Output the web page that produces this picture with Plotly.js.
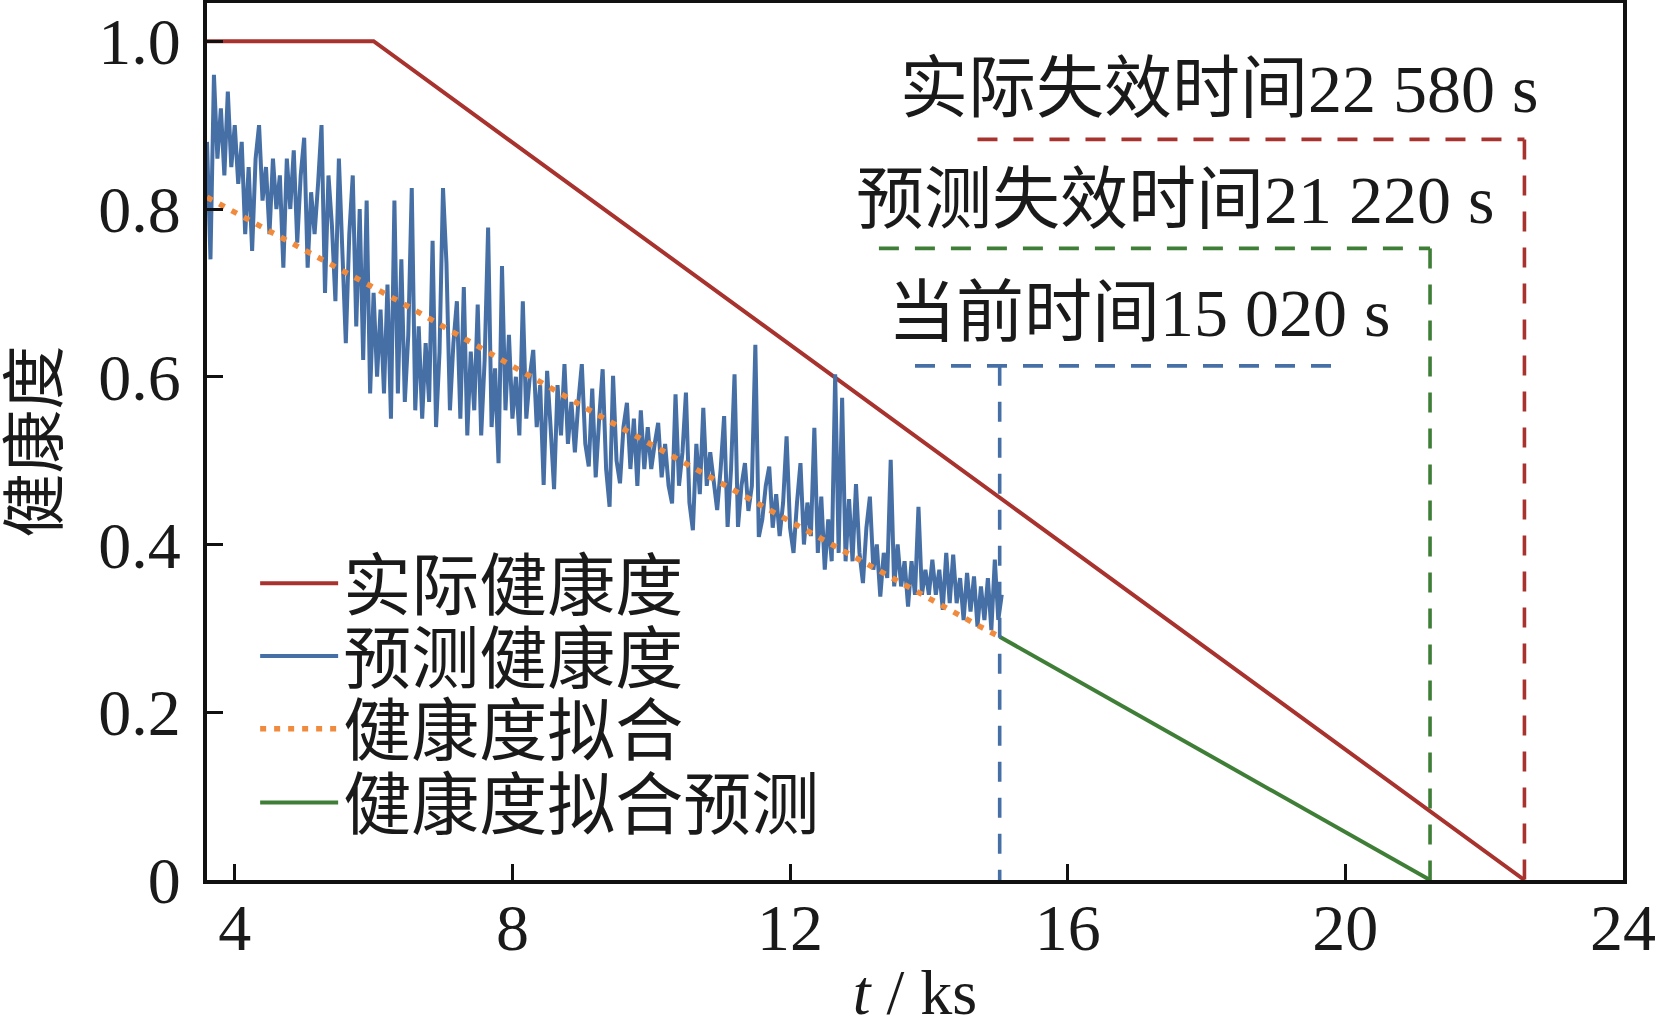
<!DOCTYPE html>
<html>
<head>
<meta charset="utf-8">
<script src="https://cdn.plot.ly/plotly-3.0.1.min.js"></script>
<style>
body { margin: 0; background: #fff; }
#chart { width: 1656px; height: 1028px; }
</style>
</head>
<body>
<div id="chart"></div>
<script>
// t in ks, health index 0..1
var actualT = [3.6, 6.0, 22.58];
var actualH = [1.0, 1.0, 0.0];

var predT = [
 3.60, 3.65, 3.70, 3.75, 3.80, 3.85, 3.90, 3.95, 4.00, 4.05, 4.10, 4.15, 4.20, 4.25, 4.30, 4.35, 4.40, 4.45, 4.50, 4.55,
 4.60, 4.65, 4.70, 4.75, 4.80, 4.85, 4.90, 4.95, 5.00, 5.05, 5.10, 5.15, 5.20, 5.25, 5.30, 5.35, 5.40, 5.45, 5.50, 5.55,
 5.60, 5.65, 5.70, 5.75, 5.80, 5.85, 5.90, 5.95, 6.00, 6.05, 6.10, 6.15, 6.20, 6.25, 6.30, 6.35, 6.40, 6.45, 6.50, 6.55,
 6.60, 6.65, 6.70, 6.75, 6.80, 6.85, 6.90, 6.95, 7.00, 7.05, 7.10, 7.15, 7.20, 7.25, 7.30, 7.35, 7.40, 7.45, 7.50, 7.55,
 7.60, 7.65, 7.70, 7.75, 7.80, 7.85, 7.90, 7.95, 8.00, 8.05, 8.10, 8.15, 8.20, 8.25, 8.30, 8.35, 8.40, 8.45, 8.50, 8.55,
 8.60, 8.65, 8.70, 8.75, 8.80, 8.85, 8.90, 8.95, 9.00, 9.05, 9.10, 9.15, 9.20, 9.25, 9.30, 9.35, 9.40, 9.45, 9.50, 9.55,
 9.60, 9.65, 9.70, 9.75, 9.80, 9.85, 9.90, 9.95, 10.00, 10.05, 10.10, 10.15, 10.20, 10.25, 10.30, 10.35, 10.40, 10.45, 10.50, 10.55,
 10.60, 10.65, 10.70, 10.75, 10.80, 10.85, 10.90, 10.95, 11.00, 11.05, 11.10, 11.15, 11.20, 11.25, 11.30, 11.35, 11.40, 11.45, 11.50, 11.55,
 11.60, 11.65, 11.70, 11.75, 11.80, 11.85, 11.90, 11.95, 12.00, 12.05, 12.10, 12.15, 12.20, 12.25, 12.30, 12.35, 12.40, 12.45, 12.50, 12.55,
 12.60, 12.65, 12.70, 12.75, 12.80, 12.85, 12.90, 12.95, 13.00, 13.05, 13.10, 13.15, 13.20, 13.25, 13.30, 13.35, 13.40, 13.45, 13.50, 13.55,
 13.60, 13.65, 13.70, 13.75, 13.80, 13.85, 13.90, 13.95, 14.00, 14.05, 14.10, 14.15, 14.20, 14.25, 14.30, 14.35, 14.40, 14.45, 14.50, 14.55,
 14.60, 14.65, 14.70, 14.75, 14.80, 14.85, 14.90, 14.95, 15.00, 15.05
];
var predH = [
 0.88, 0.74, 0.96, 0.86, 0.92, 0.84, 0.94, 0.85, 0.90, 0.83, 0.88, 0.77, 0.85, 0.75, 0.86, 0.90, 0.81, 0.85, 0.77, 0.86,
 0.80, 0.84, 0.73, 0.86, 0.80, 0.87, 0.76, 0.84, 0.885, 0.73, 0.82, 0.77, 0.83, 0.90, 0.70, 0.84, 0.78, 0.69, 0.86, 0.74,
 0.64, 0.77, 0.84, 0.66, 0.80, 0.62, 0.81, 0.58, 0.70, 0.60, 0.68, 0.58, 0.71, 0.55, 0.81, 0.58, 0.74, 0.57, 0.65, 0.825,
 0.56, 0.66, 0.55, 0.64, 0.57, 0.762, 0.54, 0.63, 0.825, 0.735, 0.56, 0.64, 0.69, 0.55, 0.707, 0.53, 0.63, 0.56, 0.686, 0.53,
 0.62, 0.778, 0.54, 0.61, 0.497, 0.732, 0.56, 0.65, 0.55, 0.60, 0.53, 0.69, 0.55, 0.60, 0.632, 0.54, 0.59, 0.471, 0.607, 0.54,
 0.466, 0.59, 0.53, 0.615, 0.52, 0.57, 0.51, 0.57, 0.615, 0.52, 0.493, 0.586, 0.48, 0.55, 0.609, 0.49, 0.445, 0.601, 0.50, 0.473,
 0.54, 0.569, 0.49, 0.55, 0.47, 0.56, 0.49, 0.54, 0.49, 0.52, 0.545, 0.48, 0.52, 0.47, 0.449, 0.579, 0.47, 0.51, 0.581, 0.45,
 0.417, 0.52, 0.46, 0.563, 0.47, 0.51, 0.47, 0.441, 0.49, 0.553, 0.421, 0.49, 0.603, 0.421, 0.47, 0.497, 0.44, 0.47, 0.638, 0.409,
 0.43, 0.47, 0.493, 0.42, 0.46, 0.41, 0.45, 0.529, 0.42, 0.390, 0.45, 0.497, 0.40, 0.45, 0.41, 0.539, 0.39, 0.457, 0.37, 0.43,
 0.38, 0.603, 0.39, 0.575, 0.38, 0.454, 0.38, 0.472, 0.39, 0.354, 0.42, 0.457, 0.37, 0.40, 0.338, 0.39, 0.36, 0.501, 0.35, 0.40,
 0.35, 0.38, 0.326, 0.38, 0.34, 0.445, 0.34, 0.37, 0.34, 0.382, 0.34, 0.37, 0.322, 0.39, 0.33, 0.388, 0.33, 0.36, 0.31, 0.366,
 0.32, 0.362, 0.302, 0.35, 0.31, 0.36, 0.298, 0.382, 0.31, 0.34
];

var fitT = [3.6, 5.02, 6.41, 9.22, 12.13, 14.74, 15.02];
var fitH = [0.814, 0.750, 0.688, 0.555, 0.421, 0.302, 0.290];

var extT = [15.02, 21.22];
var extH = [0.290, 0.0];

// current time, predicted failure, actual failure (ks)
var markT = [15.02, 21.22, 22.58];
var markLabels = ['当前时间15 020 s', '预测失效时间21 220 s', '实际失效时间22 580 s'];

var xTicks = [4, 8, 12, 16, 20, 24];
var yTicks = [0, 0.2, 0.4, 0.6, 0.8, 1.0];
var yTickText = ['0', '0.2', '0.4', '0.6', '0.8', '1.0'];

var seriesNames = ['实际健康度', '预测健康度', '健康度拟合', '健康度拟合预测'];

var RED = '#a8322d', BLUE = '#4670a5', ORANGE = '#f08a3c', GREEN = '#3f7e36';
var SERIF = 'Liberation Serif, Times New Roman, Noto Sans CJK SC, serif';
var CJK = 'Liberation Serif, Noto Sans CJK SC, sans-serif';

function healthPlot(container)
{
    // bracket placement for the three marker lines: [level, left end, right end]
    var brackets = [
        [0.613, 13.80, 19.95],
        [0.753, 13.28, markT[1]],
        [0.883, 14.70, markT[2]]
    ];
    var markColors = [BLUE, GREEN, RED];
    var labelPos = [[17.02, 0.676], [17.55, 0.811], [18.18, 0.943]];
    // one legend per row so the row spacing can follow the figure
    var legendRows = [0.338, 0.255, 0.172, 0.088];
    var legendIds = ['legend', 'legend2', 'legend3', 'legend4'];

    var traces = [
        {x: actualT, y: actualH, name: seriesNames[0], mode: 'lines',
         line: {color: RED, width: 4}},
        {x: predT, y: predH, name: seriesNames[1], mode: 'lines',
         line: {color: BLUE, width: 4}},
        {x: fitT, y: fitH, name: seriesNames[2], mode: 'lines',
         line: {color: ORANGE, width: 5.5, dash: '6px,8px'}},
        {x: extT, y: extH, name: seriesNames[3], mode: 'lines',
         line: {color: GREEN, width: 4}}
    ];
    for (var k = 0; k < traces.length; k++) {
        traces[k].legend = legendIds[k];
    }

    var annotations = [];
    for (var i = 0; i < markT.length; i++) {
        var b = brackets[i];
        traces.push({
            x: [b[1], b[2], null, markT[i], markT[i]],
            y: [b[0], b[0], null, b[0], 0],
            mode: 'lines', showlegend: false, hoverinfo: 'skip',
            line: {color: markColors[i], width: 3.6, dash: '20px,16px'}
        });
        annotations.push({
            x: labelPos[i][0], y: labelPos[i][1], xref: 'x', yref: 'y',
            text: markLabels[i], showarrow: false,
            xanchor: 'center', yanchor: 'middle',
            font: {family: CJK, size: 68, color: '#1a1a1a'}
        });
    }

    var layout = {
        width: 1656,
        height: 1028,
        margin: {l: 207, r: 33, t: 3, b: 148},
        paper_bgcolor: '#fff',
        plot_bgcolor: '#fff',
        showlegend: true,
        xaxis: {
            range: [3.6, 24],
            tickvals: xTicks,
            ticks: 'inside', ticklen: 16, tickwidth: 3, tickcolor: '#111',
            showgrid: false, zeroline: false,
            showline: true, linewidth: 4, linecolor: '#111', mirror: true,
            ticklabelstandoff: -13,
            tickfont: {family: SERIF, size: 66, color: '#1a1a1a'},
            title: {text: '<i>t</i> / ks', standoff: 78,
                    font: {family: SERIF, size: 64, color: '#1a1a1a'}}
        },
        yaxis: {
            range: [0, 1.0456],
            tickvals: yTicks,
            ticktext: yTickText,
            ticks: 'inside', ticklen: 16, tickwidth: 3, tickcolor: '#111',
            showgrid: false, zeroline: false,
            showline: true, linewidth: 4, linecolor: '#111', mirror: true,
            ticklabelstandoff: 9,
            tickfont: {family: SERIF, size: 66, color: '#1a1a1a'},
            title: {text: '健康度', standoff: 35,
                    font: {family: CJK, size: 64, color: '#1a1a1a'}}
        },
        annotations: annotations
    };
    for (var j = 0; j < legendIds.length; j++) {
        layout[legendIds[j]] = {
            x: 0.034, y: legendRows[j], xanchor: 'left', yanchor: 'middle',
            bgcolor: 'rgba(0,0,0,0)',
            itemwidth: 78,
            font: {family: CJK, size: 68, color: '#1a1a1a'}
        };
    }

    Plotly.newPlot(container, traces, layout, {staticPlot: true});
}

healthPlot('chart');
</script>
</body>
</html>
